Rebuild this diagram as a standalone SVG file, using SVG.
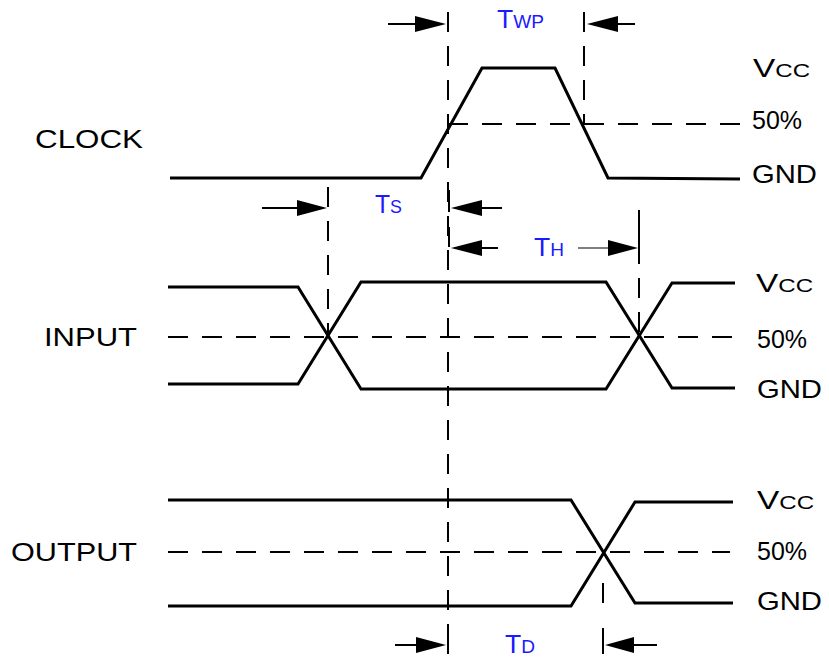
<svg xmlns="http://www.w3.org/2000/svg" width="829" height="657" viewBox="0 0 829 657">
<style>
.sig{fill:none;stroke:#000;stroke-width:3;stroke-linejoin:miter}
.dash{fill:none;stroke:#000;stroke-width:2;stroke-dasharray:20 14}
.tick{stroke:#000;stroke-width:2}
.arr{stroke:#000;stroke-width:2}
.lbl{font-family:"Liberation Sans",Arial,sans-serif;font-size:25px;fill:#000}
.big{font-size:25px}
.sm{font-size:18px}
.blue{font-family:"Liberation Sans",Arial,sans-serif;font-size:25px;fill:#1a1aff}
.head{fill:#000}
</style>
<rect width="829" height="657" fill="#fff"/>
<g id="connectors">
  <line class="dash" x1="448" y1="12" x2="448" y2="630"/>
  <line class="dash" x1="584" y1="12" x2="584" y2="125"/>
  <line class="dash" x1="328" y1="187" x2="328" y2="337"/>
  <line class="dash" x1="639" y1="210" x2="639" y2="337"/>
  <line class="dash" x1="603" y1="583" x2="603" y2="615"/>
  <line class="dash" x1="448" y1="124" x2="742" y2="124"/>
  <line class="dash" x1="168" y1="337" x2="736" y2="337"/>
  <line class="dash" x1="168" y1="552" x2="730" y2="552"/>
  <line class="arr" x1="388" y1="24" x2="420" y2="24"/>
  <polygon class="head" points="446,24 415,16 415,32"/>
  <line class="arr" x1="605" y1="24" x2="635" y2="24"/>
  <polygon class="head" points="587,24 618,16 618,32"/>
  <line class="arr" x1="262" y1="208" x2="300" y2="208"/>
  <polygon class="head" points="327,208 297,200 297,216"/>
  <line class="tick" x1="449" y1="190" x2="449" y2="212"/>
  <line class="arr" x1="478" y1="208" x2="502" y2="208"/>
  <polygon class="head" points="451,208 482,200 482,216"/>
  <line class="tick" x1="449" y1="227" x2="449" y2="247"/>
  <line class="arr" x1="478" y1="248" x2="498" y2="248"/>
  <polygon class="head" points="451,248 482,240 482,256"/>
  <line x1="578" y1="248" x2="612" y2="248" stroke="#000" stroke-width="1.2"/>
  <polygon class="head" points="638,248 608,240 608,256"/>
  <line class="tick" x1="639" y1="230" x2="639" y2="264"/>
  <line class="tick" x1="448" y1="628" x2="448" y2="654"/>
  <line class="arr" x1="395" y1="645" x2="420" y2="645"/>
  <polygon class="head" points="446,645 416,637 416,653"/>
  <line class="tick" x1="603" y1="628" x2="603" y2="654"/>
  <line class="arr" x1="630" y1="645" x2="657" y2="645"/>
  <polygon class="head" points="605,645 634,637 634,653"/>
</g>
<g id="clock">
  <polyline class="sig" points="170,178 421,178 482,68 555,68 608,178 740,179"/>
  <text class="lbl" x="35" y="148" textLength="108" lengthAdjust="spacingAndGlyphs">CLOCK</text>
  <text class="lbl" x="753" y="77" textLength="57" lengthAdjust="spacingAndGlyphs"><tspan class="big">V</tspan><tspan class="sm">CC</tspan></text>
  <text class="lbl" x="752" y="129">50%</text>
  <text class="lbl" x="752" y="183" textLength="65" lengthAdjust="spacingAndGlyphs">GND</text>
</g>
<g id="input">
  <polyline class="sig" points="168,287 298,287 361,389 606,389 672,283 735,283"/>
  <polyline class="sig" points="168,384 298,384 361,282 606,282 672,388 735,388"/>
  <text class="lbl" x="44" y="346" textLength="93" lengthAdjust="spacingAndGlyphs">INPUT</text>
  <text class="lbl" x="756" y="292" textLength="57" lengthAdjust="spacingAndGlyphs"><tspan class="big">V</tspan><tspan class="sm">CC</tspan></text>
  <text class="lbl" x="757" y="348">50%</text>
  <text class="lbl" x="757" y="398" textLength="65" lengthAdjust="spacingAndGlyphs">GND</text>
</g>
<g id="output">
  <polyline class="sig" points="168,500 571,500 635,603 733,603"/>
  <polyline class="sig" points="168,606 571,606 635,502 733,502"/>
  <text class="lbl" x="11" y="561" textLength="126" lengthAdjust="spacingAndGlyphs">OUTPUT</text>
  <text class="lbl" x="757" y="509" textLength="57" lengthAdjust="spacingAndGlyphs"><tspan class="big">V</tspan><tspan class="sm">CC</tspan></text>
  <text class="lbl" x="757" y="560">50%</text>
  <text class="lbl" x="757" y="610" textLength="65" lengthAdjust="spacingAndGlyphs">GND</text>
</g>
<g id="timing-labels">
  <text class="blue" x="497" y="28" textLength="47" lengthAdjust="spacingAndGlyphs"><tspan class="big">T</tspan><tspan class="sm">WP</tspan></text>
  <text class="blue" x="375" y="213" textLength="27" lengthAdjust="spacingAndGlyphs"><tspan class="big">T</tspan><tspan class="sm">S</tspan></text>
  <text class="blue" x="534" y="256" textLength="30" lengthAdjust="spacingAndGlyphs"><tspan class="big">T</tspan><tspan class="sm">H</tspan></text>
  <text class="blue" x="505" y="653" textLength="30" lengthAdjust="spacingAndGlyphs"><tspan class="big">T</tspan><tspan class="sm">D</tspan></text>
</g>
</svg>
